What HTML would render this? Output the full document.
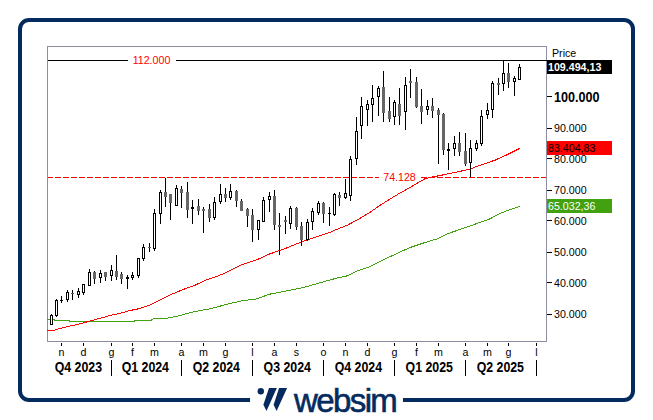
<!DOCTYPE html>
<html><head><meta charset="utf-8"><style>
html,body{margin:0;padding:0;background:#fff;}
body{width:653px;height:420px;overflow:hidden;position:relative;}
svg{position:absolute;left:0;top:0;}
text{font-family:"Liberation Sans",sans-serif;}
</style></head><body>
<svg width="653" height="420" viewBox="0 0 653 420" shape-rendering="crispEdges">
<rect x="0" y="0" width="653" height="420" fill="#fff"/>
<rect x="20" y="20" width="613" height="380" rx="9" ry="9" fill="none" stroke="#052b5e" stroke-width="4" shape-rendering="geometricPrecision"/>
<!-- chart frame -->
<rect x="47.5" y="46.5" width="499" height="295" fill="#fff" stroke="#8e8ea2" stroke-width="1"/>
<!-- 112 line -->
<rect x="48" y="60" width="80" height="1" fill="#000"/>
<rect x="176" y="60" width="371" height="1" fill="#000"/>
<text x="151.5" y="64" text-anchor="middle" font-size="10.67" fill="#f00">112.000</text>
<rect x="48" y="177" width="5" height="1" fill="#f00"/>
<rect x="55" y="177" width="6" height="1" fill="#f00"/>
<rect x="63" y="177" width="6" height="1" fill="#f00"/>
<rect x="71" y="177" width="6" height="1" fill="#f00"/>
<rect x="79" y="177" width="6" height="1" fill="#f00"/>
<rect x="87" y="177" width="6" height="1" fill="#f00"/>
<rect x="95" y="177" width="6" height="1" fill="#f00"/>
<rect x="103" y="177" width="6" height="1" fill="#f00"/>
<rect x="111" y="177" width="6" height="1" fill="#f00"/>
<rect x="119" y="177" width="6" height="1" fill="#f00"/>
<rect x="127" y="177" width="6" height="1" fill="#f00"/>
<rect x="135" y="177" width="6" height="1" fill="#f00"/>
<rect x="143" y="177" width="6" height="1" fill="#f00"/>
<rect x="151" y="177" width="6" height="1" fill="#f00"/>
<rect x="159" y="177" width="6" height="1" fill="#f00"/>
<rect x="167" y="177" width="6" height="1" fill="#f00"/>
<rect x="175" y="177" width="6" height="1" fill="#f00"/>
<rect x="183" y="177" width="6" height="1" fill="#f00"/>
<rect x="191" y="177" width="6" height="1" fill="#f00"/>
<rect x="199" y="177" width="6" height="1" fill="#f00"/>
<rect x="207" y="177" width="6" height="1" fill="#f00"/>
<rect x="215" y="177" width="6" height="1" fill="#f00"/>
<rect x="223" y="177" width="6" height="1" fill="#f00"/>
<rect x="231" y="177" width="6" height="1" fill="#f00"/>
<rect x="239" y="177" width="6" height="1" fill="#f00"/>
<rect x="247" y="177" width="6" height="1" fill="#f00"/>
<rect x="255" y="177" width="6" height="1" fill="#f00"/>
<rect x="263" y="177" width="6" height="1" fill="#f00"/>
<rect x="271" y="177" width="6" height="1" fill="#f00"/>
<rect x="279" y="177" width="6" height="1" fill="#f00"/>
<rect x="287" y="177" width="6" height="1" fill="#f00"/>
<rect x="295" y="177" width="6" height="1" fill="#f00"/>
<rect x="303" y="177" width="6" height="1" fill="#f00"/>
<rect x="311" y="177" width="6" height="1" fill="#f00"/>
<rect x="319" y="177" width="6" height="1" fill="#f00"/>
<rect x="327" y="177" width="6" height="1" fill="#f00"/>
<rect x="335" y="177" width="6" height="1" fill="#f00"/>
<rect x="343" y="177" width="6" height="1" fill="#f00"/>
<rect x="351" y="177" width="6" height="1" fill="#f00"/>
<rect x="359" y="177" width="6" height="1" fill="#f00"/>
<rect x="367" y="177" width="6" height="1" fill="#f00"/>
<rect x="375" y="177" width="4" height="1" fill="#f00"/>
<rect x="421" y="177" width="6" height="1" fill="#f00"/>
<rect x="429" y="177" width="6" height="1" fill="#f00"/>
<rect x="437" y="177" width="6" height="1" fill="#f00"/>
<rect x="445" y="177" width="6" height="1" fill="#f00"/>
<rect x="453" y="177" width="6" height="1" fill="#f00"/>
<rect x="461" y="177" width="6" height="1" fill="#f00"/>
<rect x="469" y="177" width="6" height="1" fill="#f00"/>
<rect x="477" y="177" width="6" height="1" fill="#f00"/>
<rect x="485" y="177" width="6" height="1" fill="#f00"/>
<rect x="493" y="177" width="6" height="1" fill="#f00"/>
<rect x="501" y="177" width="6" height="1" fill="#f00"/>
<rect x="509" y="177" width="6" height="1" fill="#f00"/>
<rect x="517" y="177" width="6" height="1" fill="#f00"/>
<rect x="525" y="177" width="6" height="1" fill="#f00"/>
<rect x="533" y="177" width="6" height="1" fill="#f00"/>
<rect x="541" y="177" width="5" height="1" fill="#f00"/>
<text x="399.5" y="181" text-anchor="middle" font-size="10.67" fill="#f00">74.128</text>
<!-- MAs -->
<g shape-rendering="crispEdges" fill="none" stroke-width="1">
<polyline points="47,319.3 54,319.3 54,320.5 69.5,320.5 69.5,321.4 134.9,321.4 134.9,320.3 151.9,320.3 151.9,319.2 157.4,318.3 167.9,318.1 179.3,315.7 189.3,312.9 200.7,310.4 209.3,309 215,307.6 225.5,304.6 241,301 256.4,298.9 269.6,294.2 284,291.4 303.1,287.6 330,280 336.3,278.2 346.5,276 358.9,270.3 370.2,266.5 379.3,262 390,256.7 410,247.5 425,242.5 437.5,238.75 447.5,233.75 464,228.1 476,223.8 487.9,219.8 502,212.6 511.7,209 520,206.2" stroke="#41a10f"/>
<polyline points="47,330.4 53.4,330.4 57.7,329.1 68.4,326.4 79.2,324 89.9,321.1 100.6,318.1 111.3,315.2 119.3,313.4 124.4,312.2 130.3,310.4 135.4,309.5 140,308.4 145,306.5 149.6,305.2 155.1,302.4 159.7,300.1 169.3,295.3 183.6,289.3 195,285.3 205,280.4 215,277.1 225.5,272.9 241,265.1 256.4,260 269.6,254 284,249 303.1,241.3 330,232.4 336.3,229.6 347.6,225.1 358.9,219 370.2,212.2 379.3,205.8 390,199 397.5,194.5 410,187.5 417.5,183 425,178.75 430,177.5 445,174.5 456.9,172.1 470,169 480.7,165 495,160.2 506.9,154.8 520,148.3" stroke="#f00"/>
</g>
<rect x="51" y="314" width="1" height="11" fill="#000"/>
<rect x="50.5" y="315.5" width="2" height="9" fill="#fff" stroke="#000" stroke-width="1"/>
<rect x="56" y="299" width="1" height="18" fill="#000"/>
<rect x="55.5" y="300.5" width="2" height="15" fill="#fff" stroke="#000" stroke-width="1"/>
<rect x="61" y="296" width="1" height="7" fill="#000"/>
<rect x="60" y="300" width="3" height="1" fill="#000"/>
<rect x="67" y="290" width="1" height="12" fill="#000"/>
<rect x="66.5" y="292.5" width="2" height="7" fill="#fff" stroke="#000" stroke-width="1"/>
<rect x="72" y="290" width="1" height="10" fill="#000"/>
<rect x="71" y="293" width="3" height="1" fill="#666666"/>
<rect x="78" y="288" width="1" height="10" fill="#000"/>
<rect x="77.5" y="291.5" width="2" height="3" fill="#fff" stroke="#000" stroke-width="1"/>
<rect x="83" y="284" width="1" height="11" fill="#000"/>
<rect x="82.5" y="284.5" width="2" height="8" fill="#fff" stroke="#000" stroke-width="1"/>
<rect x="89" y="269" width="1" height="17" fill="#000"/>
<rect x="88.5" y="272.5" width="2" height="13" fill="#fff" stroke="#000" stroke-width="1"/>
<rect x="94" y="271" width="1" height="13" fill="#000"/>
<rect x="93" y="272" width="3" height="7" fill="#666666"/>
<rect x="100" y="270" width="1" height="13" fill="#000"/>
<rect x="99.5" y="273.5" width="2" height="4" fill="#fff" stroke="#000" stroke-width="1"/>
<rect x="105" y="272" width="1" height="9" fill="#000"/>
<rect x="104" y="272" width="3" height="5" fill="#666666"/>
<rect x="111" y="265" width="1" height="16" fill="#000"/>
<rect x="110.5" y="270.5" width="2" height="5" fill="#fff" stroke="#000" stroke-width="1"/>
<rect x="116" y="255" width="1" height="25" fill="#000"/>
<rect x="115" y="271" width="3" height="6" fill="#666666"/>
<rect x="121" y="272" width="1" height="12" fill="#000"/>
<rect x="120" y="274" width="3" height="5" fill="#666666"/>
<rect x="127" y="275" width="1" height="14" fill="#000"/>
<rect x="126" y="277" width="3" height="2" fill="#000"/>
<rect x="132" y="272" width="1" height="8" fill="#000"/>
<rect x="131.5" y="275.5" width="2" height="2" fill="#fff" stroke="#000" stroke-width="1"/>
<rect x="138" y="258" width="1" height="20" fill="#000"/>
<rect x="137.5" y="258.5" width="2" height="17" fill="#fff" stroke="#000" stroke-width="1"/>
<rect x="143" y="244" width="1" height="17" fill="#000"/>
<rect x="142.5" y="247.5" width="2" height="11" fill="#fff" stroke="#000" stroke-width="1"/>
<rect x="149" y="243" width="1" height="9" fill="#000"/>
<rect x="148" y="247" width="3" height="1" fill="#666666"/>
<rect x="154" y="209" width="1" height="42" fill="#000"/>
<rect x="153.5" y="213.5" width="2" height="35" fill="#fff" stroke="#000" stroke-width="1"/>
<rect x="160" y="190" width="1" height="34" fill="#000"/>
<rect x="159.5" y="192.5" width="2" height="21" fill="#fff" stroke="#000" stroke-width="1"/>
<rect x="165" y="178" width="1" height="29" fill="#000"/>
<rect x="164" y="192" width="3" height="5" fill="#666666"/>
<rect x="170" y="194" width="1" height="26" fill="#000"/>
<rect x="169" y="194" width="3" height="9" fill="#666666"/>
<rect x="176" y="185" width="1" height="21" fill="#000"/>
<rect x="175.5" y="188.5" width="2" height="17" fill="#fff" stroke="#000" stroke-width="1"/>
<rect x="181" y="186" width="1" height="22" fill="#000"/>
<rect x="180" y="189" width="3" height="4" fill="#666666"/>
<rect x="187" y="182" width="1" height="36" fill="#000"/>
<rect x="186" y="192" width="3" height="18" fill="#666666"/>
<rect x="192" y="200" width="1" height="24" fill="#000"/>
<rect x="191" y="207" width="3" height="2" fill="#000"/>
<rect x="198" y="199" width="1" height="16" fill="#000"/>
<rect x="197" y="206" width="3" height="5" fill="#666666"/>
<rect x="203" y="207" width="1" height="26" fill="#000"/>
<rect x="202" y="209" width="3" height="2" fill="#666666"/>
<rect x="209" y="204" width="1" height="18" fill="#000"/>
<rect x="208" y="209" width="3" height="9" fill="#666666"/>
<rect x="214" y="197" width="1" height="23" fill="#000"/>
<rect x="213.5" y="202.5" width="2" height="15" fill="#fff" stroke="#000" stroke-width="1"/>
<rect x="220" y="184" width="1" height="20" fill="#000"/>
<rect x="219.5" y="194.5" width="2" height="7" fill="#fff" stroke="#000" stroke-width="1"/>
<rect x="225" y="188" width="1" height="14" fill="#000"/>
<rect x="224" y="194" width="3" height="4" fill="#666666"/>
<rect x="230" y="184" width="1" height="16" fill="#000"/>
<rect x="229.5" y="191.5" width="2" height="6" fill="#fff" stroke="#000" stroke-width="1"/>
<rect x="236" y="190" width="1" height="17" fill="#000"/>
<rect x="235" y="191" width="3" height="10" fill="#666666"/>
<rect x="241" y="199" width="1" height="12" fill="#000"/>
<rect x="240" y="201" width="3" height="10" fill="#666666"/>
<rect x="247" y="208" width="1" height="19" fill="#000"/>
<rect x="246" y="209" width="3" height="7" fill="#666666"/>
<rect x="252" y="209" width="1" height="33" fill="#000"/>
<rect x="251" y="215" width="3" height="15" fill="#666666"/>
<rect x="258" y="220" width="1" height="20" fill="#000"/>
<rect x="257.5" y="220.5" width="2" height="9" fill="#fff" stroke="#000" stroke-width="1"/>
<rect x="263" y="197" width="1" height="25" fill="#000"/>
<rect x="262.5" y="200.5" width="2" height="21" fill="#fff" stroke="#000" stroke-width="1"/>
<rect x="269" y="192" width="1" height="20" fill="#000"/>
<rect x="268.5" y="196.5" width="2" height="3" fill="#fff" stroke="#000" stroke-width="1"/>
<rect x="274" y="190" width="1" height="40" fill="#000"/>
<rect x="273" y="196" width="3" height="29" fill="#666666"/>
<rect x="279" y="213" width="1" height="42" fill="#000"/>
<rect x="278" y="225" width="3" height="2" fill="#666666"/>
<rect x="285" y="216" width="1" height="18" fill="#000"/>
<rect x="284" y="220" width="3" height="2" fill="#666666"/>
<rect x="290" y="206" width="1" height="23" fill="#000"/>
<rect x="289.5" y="208.5" width="2" height="15" fill="#fff" stroke="#000" stroke-width="1"/>
<rect x="296" y="207" width="1" height="23" fill="#000"/>
<rect x="295" y="208" width="3" height="19" fill="#666666"/>
<rect x="301" y="222" width="1" height="24" fill="#000"/>
<rect x="300" y="226" width="3" height="14" fill="#666666"/>
<rect x="307" y="219" width="1" height="22" fill="#000"/>
<rect x="306.5" y="222.5" width="2" height="17" fill="#fff" stroke="#000" stroke-width="1"/>
<rect x="312" y="208" width="1" height="22" fill="#000"/>
<rect x="311.5" y="211.5" width="2" height="10" fill="#fff" stroke="#000" stroke-width="1"/>
<rect x="318" y="201" width="1" height="14" fill="#000"/>
<rect x="317.5" y="203.5" width="2" height="9" fill="#fff" stroke="#000" stroke-width="1"/>
<rect x="323" y="202" width="1" height="21" fill="#000"/>
<rect x="322" y="203" width="3" height="11" fill="#666666"/>
<rect x="329" y="207" width="1" height="19" fill="#000"/>
<rect x="328" y="213" width="3" height="1" fill="#000"/>
<rect x="334" y="193" width="1" height="23" fill="#000"/>
<rect x="333.5" y="194.5" width="2" height="20" fill="#fff" stroke="#000" stroke-width="1"/>
<rect x="339" y="192" width="1" height="14" fill="#000"/>
<rect x="338" y="195" width="3" height="3" fill="#666666"/>
<rect x="345" y="179" width="1" height="20" fill="#000"/>
<rect x="344.5" y="193.5" width="2" height="4" fill="#fff" stroke="#000" stroke-width="1"/>
<rect x="350" y="156" width="1" height="45" fill="#000"/>
<rect x="349.5" y="159.5" width="2" height="36" fill="#fff" stroke="#000" stroke-width="1"/>
<rect x="356" y="117" width="1" height="48" fill="#000"/>
<rect x="355.5" y="131.5" width="2" height="27" fill="#fff" stroke="#000" stroke-width="1"/>
<rect x="361" y="97" width="1" height="42" fill="#000"/>
<rect x="360.5" y="106.5" width="2" height="19" fill="#fff" stroke="#000" stroke-width="1"/>
<rect x="367" y="100" width="1" height="26" fill="#000"/>
<rect x="366.5" y="104.5" width="2" height="5" fill="#fff" stroke="#000" stroke-width="1"/>
<rect x="372" y="85" width="1" height="37" fill="#000"/>
<rect x="371.5" y="98.5" width="2" height="6" fill="#fff" stroke="#000" stroke-width="1"/>
<rect x="378" y="86" width="1" height="30" fill="#000"/>
<rect x="377.5" y="88.5" width="2" height="8" fill="#fff" stroke="#000" stroke-width="1"/>
<rect x="383" y="71" width="1" height="51" fill="#000"/>
<rect x="382" y="87" width="3" height="26" fill="#666666"/>
<rect x="389" y="97" width="1" height="25" fill="#000"/>
<rect x="388" y="111" width="3" height="8" fill="#666666"/>
<rect x="394" y="100" width="1" height="25" fill="#000"/>
<rect x="393.5" y="102.5" width="2" height="14" fill="#fff" stroke="#000" stroke-width="1"/>
<rect x="399" y="88" width="1" height="37" fill="#000"/>
<rect x="398" y="104" width="3" height="12" fill="#666666"/>
<rect x="405" y="77" width="1" height="53" fill="#000"/>
<rect x="404.5" y="85.5" width="2" height="26" fill="#fff" stroke="#000" stroke-width="1"/>
<rect x="410" y="69" width="1" height="29" fill="#000"/>
<rect x="409" y="81" width="3" height="2" fill="#666666"/>
<rect x="416" y="77" width="1" height="31" fill="#000"/>
<rect x="415" y="82" width="3" height="25" fill="#666666"/>
<rect x="421" y="89" width="1" height="35" fill="#000"/>
<rect x="420" y="106" width="3" height="6" fill="#666666"/>
<rect x="427" y="100" width="1" height="15" fill="#000"/>
<rect x="426.5" y="106.5" width="2" height="3" fill="#fff" stroke="#000" stroke-width="1"/>
<rect x="432" y="98" width="1" height="20" fill="#000"/>
<rect x="431" y="106" width="3" height="5" fill="#666666"/>
<rect x="438" y="108" width="1" height="56" fill="#000"/>
<rect x="437" y="110" width="3" height="5" fill="#666666"/>
<rect x="443" y="113" width="1" height="42" fill="#000"/>
<rect x="442" y="114" width="3" height="36" fill="#666666"/>
<rect x="448" y="143" width="1" height="27" fill="#000"/>
<rect x="447" y="149" width="3" height="2" fill="#000"/>
<rect x="454" y="136" width="1" height="20" fill="#000"/>
<rect x="453.5" y="143.5" width="2" height="5" fill="#fff" stroke="#000" stroke-width="1"/>
<rect x="459" y="132" width="1" height="24" fill="#000"/>
<rect x="458" y="143" width="3" height="9" fill="#666666"/>
<rect x="465" y="133" width="1" height="33" fill="#000"/>
<rect x="464" y="151" width="3" height="13" fill="#666666"/>
<rect x="470" y="140" width="1" height="37" fill="#000"/>
<rect x="469.5" y="148.5" width="2" height="14" fill="#fff" stroke="#000" stroke-width="1"/>
<rect x="476" y="140" width="1" height="11" fill="#000"/>
<rect x="475.5" y="143.5" width="2" height="5" fill="#fff" stroke="#000" stroke-width="1"/>
<rect x="481" y="110" width="1" height="36" fill="#000"/>
<rect x="480.5" y="116.5" width="2" height="27" fill="#fff" stroke="#000" stroke-width="1"/>
<rect x="487" y="103" width="1" height="16" fill="#000"/>
<rect x="486.5" y="110.5" width="2" height="4" fill="#fff" stroke="#000" stroke-width="1"/>
<rect x="492" y="81" width="1" height="37" fill="#000"/>
<rect x="491.5" y="83.5" width="2" height="26" fill="#fff" stroke="#000" stroke-width="1"/>
<rect x="498" y="78" width="1" height="17" fill="#000"/>
<rect x="497" y="83" width="3" height="2" fill="#666666"/>
<rect x="503" y="60" width="1" height="31" fill="#000"/>
<rect x="502.5" y="73.5" width="2" height="10" fill="#fff" stroke="#000" stroke-width="1"/>
<rect x="508" y="63" width="1" height="25" fill="#000"/>
<rect x="507" y="73" width="3" height="9" fill="#666666"/>
<rect x="514" y="76" width="1" height="20" fill="#000"/>
<rect x="513.5" y="78.5" width="2" height="3" fill="#fff" stroke="#000" stroke-width="1"/>
<rect x="519" y="64" width="1" height="16" fill="#000"/>
<rect x="518.5" y="67.5" width="2" height="12" fill="#fff" stroke="#000" stroke-width="1"/>
<!-- y axis -->
<g font-size="10.67" fill="#000">
<rect x="547" y="128" width="5" height="1" fill="#000"/><text x="554" y="131.5">90.000</text><rect x="547" y="158" width="5" height="1" fill="#000"/><text x="554" y="162.5">80.000</text><rect x="547" y="190" width="5" height="1" fill="#000"/><text x="554" y="193.5">70.000</text><rect x="547" y="220" width="5" height="1" fill="#000"/><text x="554" y="224.5">60.000</text><rect x="547" y="252" width="5" height="1" fill="#000"/><text x="554" y="255.5">50.000</text><rect x="547" y="282" width="5" height="1" fill="#000"/><text x="554" y="286.5">40.000</text><rect x="547" y="314" width="5" height="1" fill="#000"/><text x="554" y="317.5">30.000</text>
</g>
<rect x="547" y="96" width="5" height="1" fill="#000"/>
<text transform="translate(554,101.7) scale(1,1.13)" font-size="12.6" font-weight="bold" fill="#000">100.000</text>
<text x="552" y="56.5" font-size="10.67" fill="#000">Price</text>
<rect x="547" y="60" width="65" height="14" fill="#000"/>
<text x="548" y="71" font-size="10.67" font-weight="bold" fill="#fff">109.494,13</text>
<rect x="547" y="141" width="65" height="14" fill="#f00"/>
<text x="548" y="152" font-size="10.67" fill="#000">83.404,83</text>
<rect x="547" y="199" width="65" height="14" fill="#41a10f"/>
<text x="548" y="210" font-size="10.67" fill="#fff">65.032,36</text>
<!-- x axis -->
<rect x="61" y="343" width="1" height="3" fill="#000"/><rect x="83" y="343" width="1" height="3" fill="#000"/><rect x="111" y="343" width="1" height="3" fill="#000"/><rect x="132" y="343" width="1" height="3" fill="#000"/><rect x="154" y="343" width="1" height="3" fill="#000"/><rect x="181" y="343" width="1" height="3" fill="#000"/><rect x="203" y="343" width="1" height="3" fill="#000"/><rect x="225" y="343" width="1" height="3" fill="#000"/><rect x="252" y="343" width="1" height="3" fill="#000"/><rect x="274" y="343" width="1" height="3" fill="#000"/><rect x="296" y="343" width="1" height="3" fill="#000"/><rect x="323" y="343" width="1" height="3" fill="#000"/><rect x="345" y="343" width="1" height="3" fill="#000"/><rect x="367" y="343" width="1" height="3" fill="#000"/><rect x="394" y="343" width="1" height="3" fill="#000"/><rect x="416" y="343" width="1" height="3" fill="#000"/><rect x="438" y="343" width="1" height="3" fill="#000"/><rect x="465" y="343" width="1" height="3" fill="#000"/><rect x="487" y="343" width="1" height="3" fill="#000"/><rect x="508" y="343" width="1" height="3" fill="#000"/><rect x="536" y="343" width="1" height="3" fill="#000"/>
<g font-size="10.67" fill="#000">
<text x="61.5" y="356" text-anchor="middle">n</text><text x="83.5" y="356" text-anchor="middle">d</text><text x="111.5" y="356" text-anchor="middle">g</text><text x="132.5" y="356" text-anchor="middle">f</text><text x="154.5" y="356" text-anchor="middle">m</text><text x="181.5" y="356" text-anchor="middle">a</text><text x="203.5" y="356" text-anchor="middle">m</text><text x="225.5" y="356" text-anchor="middle">g</text><text x="252.5" y="356" text-anchor="middle">l</text><text x="274.5" y="356" text-anchor="middle">a</text><text x="296.5" y="356" text-anchor="middle">s</text><text x="323.5" y="356" text-anchor="middle">o</text><text x="345.5" y="356" text-anchor="middle">n</text><text x="367.5" y="356" text-anchor="middle">d</text><text x="394.5" y="356" text-anchor="middle">g</text><text x="416.5" y="356" text-anchor="middle">f</text><text x="438.5" y="356" text-anchor="middle">m</text><text x="465.5" y="356" text-anchor="middle">a</text><text x="487.5" y="356" text-anchor="middle">m</text><text x="508.5" y="356" text-anchor="middle">g</text><text x="536.5" y="356" text-anchor="middle">l</text>
</g>
<rect x="111" y="360" width="1" height="16" fill="#000"/><rect x="181" y="360" width="1" height="16" fill="#000"/><rect x="252" y="360" width="1" height="16" fill="#000"/><rect x="323" y="360" width="1" height="16" fill="#000"/><rect x="394" y="360" width="1" height="16" fill="#000"/><rect x="465" y="360" width="1" height="16" fill="#000"/><rect x="536" y="360" width="1" height="16" fill="#000"/>
<g font-size="12.8" font-weight="bold" fill="#000">
<text transform="translate(78.4,372) scale(0.965,1.09)" text-anchor="middle">Q4 2023</text><text transform="translate(145.3,372) scale(0.965,1.09)" text-anchor="middle">Q1 2024</text><text transform="translate(216.3,372) scale(0.965,1.09)" text-anchor="middle">Q2 2024</text><text transform="translate(287.2,372) scale(0.965,1.09)" text-anchor="middle">Q3 2024</text><text transform="translate(358.4,372) scale(0.965,1.09)" text-anchor="middle">Q4 2024</text><text transform="translate(429.2,372) scale(0.965,1.09)" text-anchor="middle">Q1 2025</text><text transform="translate(500.3,372) scale(0.965,1.09)" text-anchor="middle">Q2 2025</text>
</g>
<!-- logo -->
<rect x="250" y="390" width="153" height="20" fill="#fff"/>
<g shape-rendering="geometricPrecision" fill="#052b5e">
<circle cx="260.8" cy="391.3" r="3.2"/>
<polygon points="269,388.1 276.8,388.1 266.5,411.1 263.4,404.7"/>
<polygon points="279.1,388.1 287.1,388.1 276.6,411.1 273.6,404.7"/>
<text x="294" y="412.2" font-size="33" letter-spacing="-1.6" stroke="#052b5e" stroke-width="0.6" fill="#052b5e">websim</text>
</g>
</svg>
</body></html>
